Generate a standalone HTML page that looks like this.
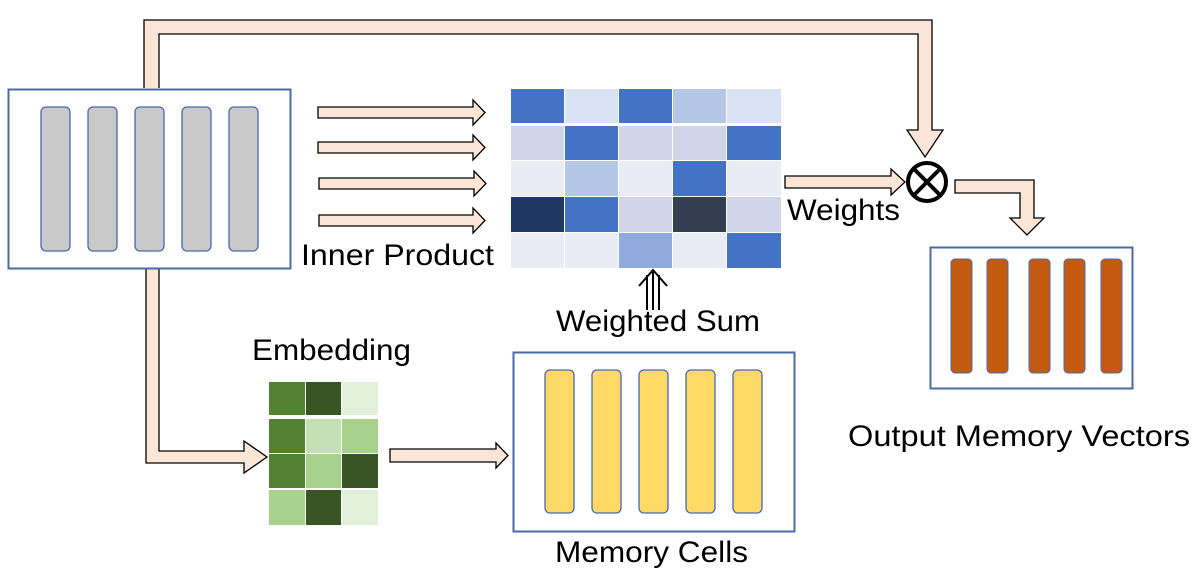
<!DOCTYPE html>
<html><head><meta charset="utf-8"><style>
html,body{margin:0;padding:0;background:#fff;}
svg{display:block;}
text{font-family:"Liberation Sans",sans-serif;fill:#000;}
</style></head><body>
<svg width="1196" height="572" viewBox="0 0 1196 572" xmlns="http://www.w3.org/2000/svg">
<g stroke="#000" stroke-width="1.3" fill="#fbe5d6" stroke-linejoin="miter">
<!-- top connector -->
<path d="M144,88 V20 H932 V130 H943 L925,157 L907,130 H918 V34 H159 V88"/>
<!-- bottom connector -->
<path d="M146,269 V463 H244 V473 L267,457 L244,441 V451 H159 V269"/>
<!-- inner product arrows -->
<path d="M318,107 H473 V100 L485,112.5 L473,125 V118 H318 Z"/>
<path d="M318,142 H473 V135 L485,147.5 L473,160 V153 H318 Z"/>
<path d="M319,178 H474 V171 L486,183.5 L474,196 V189 H319 Z"/>
<path d="M319,215 H473 V208 L485,220.5 L473,233 V226 H319 Z"/>
<!-- weights arrow -->
<path d="M785,176 H891 V169 L905,182 L891,195 V188 H785 Z"/>
<!-- output arrow -->
<path d="M955,180 H1034 V218 H1044 L1027,235 L1010,218 H1020 V193 H955 Z"/>
<!-- embedding to memory -->
<path d="M390,449 H496 V443 L508,455.5 L496,468 V462 H390 Z"/>
</g>
<!-- otimes -->
<g stroke="#000" stroke-width="4" fill="none">
<circle cx="927" cy="182" r="19"/>
<line x1="913.5" y1="168.5" x2="940.5" y2="195.5"/>
<line x1="940.5" y1="168.5" x2="913.5" y2="195.5"/>
</g>
<!-- left box -->
<rect x="8.5" y="89.5" width="282" height="179" fill="#fff" stroke="#4a6aa8" stroke-width="2"/>
<g fill="#c9c9c9" stroke="#4a6aa8" stroke-width="1.3">
<rect x="41" y="107" width="29" height="144" rx="5"/>
<rect x="88" y="107" width="29" height="144" rx="5"/>
<rect x="135" y="107" width="29" height="144" rx="5"/>
<rect x="182" y="107" width="29" height="144" rx="5"/>
<rect x="229" y="107" width="29" height="144" rx="5"/>
</g>
<!-- blue grid -->
<g>
<rect x="511" y="89" width="53" height="34" fill="#4472c4"/>
<rect x="565" y="89" width="53" height="34" fill="#dae3f3"/>
<rect x="619" y="89" width="53" height="34" fill="#4472c4"/>
<rect x="673" y="89" width="53" height="34" fill="#b4c7e7"/>
<rect x="727" y="89" width="54" height="34" fill="#dae3f3"/>
<rect x="511" y="126" width="53" height="34" fill="#d0d5ea"/>
<rect x="565" y="126" width="53" height="34" fill="#4472c4"/>
<rect x="619" y="126" width="53" height="34" fill="#d0d5ea"/>
<rect x="673" y="126" width="53" height="34" fill="#d0d5ea"/>
<rect x="727" y="126" width="54" height="34" fill="#4472c4"/>
<rect x="511" y="161" width="53" height="35" fill="#e9ebf5"/>
<rect x="565" y="161" width="53" height="35" fill="#b4c7e7"/>
<rect x="619" y="161" width="53" height="35" fill="#e9ebf5"/>
<rect x="673" y="161" width="53" height="35" fill="#4472c4"/>
<rect x="727" y="161" width="54" height="35" fill="#e9ebf5"/>
<rect x="511" y="197" width="53" height="35" fill="#203864"/>
<rect x="565" y="197" width="53" height="35" fill="#4472c4"/>
<rect x="619" y="197" width="53" height="35" fill="#d0d5ea"/>
<rect x="673" y="197" width="53" height="35" fill="#333f50"/>
<rect x="727" y="197" width="54" height="35" fill="#d0d5ea"/>
<rect x="511" y="233" width="53" height="35" fill="#e9ebf5"/>
<rect x="565" y="233" width="53" height="35" fill="#e9ebf5"/>
<rect x="619" y="233" width="53" height="35" fill="#8faadc"/>
<rect x="673" y="233" width="53" height="35" fill="#e9ebf5"/>
<rect x="727" y="233" width="54" height="35" fill="#4472c4"/>
</g>
<!-- triple arrow -->
<g stroke="#000" stroke-width="2" fill="none">
<line x1="647" y1="275" x2="647" y2="310"/>
<line x1="653" y1="272" x2="653" y2="310"/>
<line x1="659" y1="275" x2="659" y2="310"/>
<polyline points="639,286 653,270 667,286"/>
</g>
<!-- green grid -->
<g>
<rect x="269" y="382" width="36" height="33" fill="#548235"/>
<rect x="306" y="382" width="35" height="33" fill="#375623"/>
<rect x="342" y="382" width="36" height="33" fill="#e2efda"/>
<rect x="269" y="419" width="36" height="34" fill="#548235"/>
<rect x="306" y="419" width="35" height="34" fill="#c5e0b4"/>
<rect x="342" y="419" width="36" height="34" fill="#a9d18e"/>
<rect x="269" y="454" width="36" height="34" fill="#548235"/>
<rect x="306" y="454" width="35" height="34" fill="#a9d18e"/>
<rect x="342" y="454" width="36" height="34" fill="#375623"/>
<rect x="269" y="490" width="36" height="35" fill="#a9d18e"/>
<rect x="306" y="490" width="35" height="35" fill="#375623"/>
<rect x="342" y="490" width="36" height="35" fill="#e2efda"/>
</g>
<!-- memory box -->
<rect x="513.5" y="352.5" width="281" height="179" fill="#fff" stroke="#4a6aa8" stroke-width="2"/>
<g fill="#ffd966" stroke="#4a6aa8" stroke-width="1.3">
<rect x="545" y="370" width="29" height="143" rx="5"/>
<rect x="592" y="370" width="29" height="143" rx="5"/>
<rect x="639" y="370" width="29" height="143" rx="5"/>
<rect x="686" y="370" width="29" height="143" rx="5"/>
<rect x="733" y="370" width="29" height="143" rx="5"/>
</g>
<!-- output box -->
<rect x="930.5" y="247.5" width="202" height="141" fill="#fff" stroke="#4a6aa8" stroke-width="2"/>
<g fill="#c55a11" stroke="#4a6aa8" stroke-width="1">
<rect x="951" y="259" width="21" height="114" rx="4"/>
<rect x="987" y="259" width="21" height="114" rx="4"/>
<rect x="1029" y="259" width="21" height="114" rx="4"/>
<rect x="1064" y="259" width="21" height="114" rx="4"/>
<rect x="1101" y="259" width="21" height="114" rx="4"/>
</g>
<!-- labels -->
<text x="301" y="265" font-size="30" textLength="193" lengthAdjust="spacingAndGlyphs">Inner Product</text>
<text x="787" y="220" font-size="30" textLength="113" lengthAdjust="spacingAndGlyphs">Weights</text>
<text x="556" y="331" font-size="30" textLength="204" lengthAdjust="spacingAndGlyphs">Weighted Sum</text>
<text x="252" y="360" font-size="30" textLength="159" lengthAdjust="spacingAndGlyphs">Embedding</text>
<text x="555" y="562" font-size="30" textLength="193" lengthAdjust="spacingAndGlyphs">Memory Cells</text>
<text x="848" y="446" font-size="30" textLength="342" lengthAdjust="spacingAndGlyphs">Output Memory Vectors</text>
</svg>
</body></html>
